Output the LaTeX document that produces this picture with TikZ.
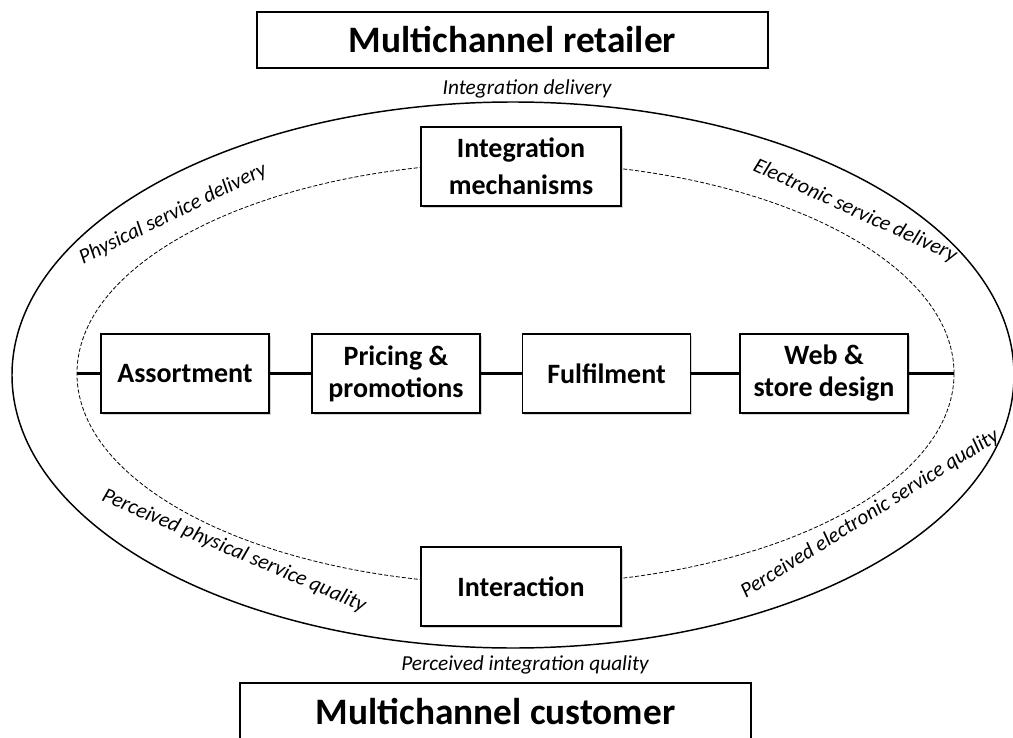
\documentclass[tikz,border=0pt]{standalone}
\usepackage{fontspec}
\setmainfont{Carlito}
\usetikzlibrary{shadows}

\tikzset{
  titlebox/.style={draw=black, line width=0.9pt, fill=white, inner sep=0pt,
    font=\fontsize{28}{34}\selectfont\bfseries},
  areabox/.style={draw=black, line width=0.8pt, fill=white, inner sep=0pt,
    align=center, minimum width=126pt, minimum height=59.25pt,
    font=\fontsize{21}{24}\selectfont\bfseries,
    drop shadow={shadow xshift=1.2pt, shadow yshift=-1.2pt, opacity=0.35}},
  flowlabel/.style={inner sep=0pt, font=\fontsize{16}{19}\selectfont\itshape},
  outerring/.style={draw=black, line width=1.1pt},
  innerring/.style={draw=black, line width=0.6pt, dash pattern=on 3pt off 1.5pt},
  chain/.style={draw=black, line width=2.2pt}
}

\begin{document}
\begin{tikzpicture}[x=0.75pt, y=-0.75pt]
  \useasboundingbox (0,0) rectangle (1013,738);

  % service rings
  \draw[outerring] (513,375) ellipse [x radius=375.75pt, y radius=204.75pt];
  \draw[innerring] (515.5,373.5) ellipse [x radius=328.9pt, y radius=158.25pt];

  % ends of the central chain on the inner ring
  \coordinate (chainL) at (77,373.5);
  \coordinate (chainR) at (954,373.5);

  % retailer and customer
  \node[titlebox, minimum width=383.25pt, minimum height=42pt] (retailer) at (512.5,40)
    {Multichannel retailer};
  \node[titlebox, minimum width=383.25pt, minimum height=42.75pt] (customer) at (495.5,711.5)
    {Multichannel customer};

  % retail mix areas
  \node[areabox] (assort) at (185,373.5) {Assortment};
  \node[areabox] (pricing) at (396,373.5) {Pricing \&\\promotions};
  \node[areabox] (fulfil) at (606.5,373.5) {Fulfilment};
  \node[areabox] (web) at (824,373.5) {Web \&\\store design};

  \draw[chain] (chainL) -- (assort) (assort) -- (pricing) (pricing) -- (fulfil)
    (fulfil) -- (web) (web) -- (chainR);

  \node[areabox, minimum width=150pt, font=\fontsize{21}{27.75}\selectfont\bfseries]
    (integ) at (521,166.5) {Integration\\mechanisms};
  \node[areabox, minimum width=150pt] (interact) at (521,586.5) {Interaction};

  % delivery and quality labels
  \node[flowlabel, anchor=base] (intdel) at (527,95) {Integration delivery};
  \node[flowlabel, anchor=base] (intqual) at (525,670) {Perceived integration quality};
  \node[flowlabel, rotate=26] (physdel) at (173,214) {Physical service delivery};
  \node[flowlabel, rotate=-24.5] (elecdel) at (855,211) {Electronic service delivery};
  \node[flowlabel, rotate=-23] (physqual) at (234,551) {Perceived physical service quality};
  \node[flowlabel, rotate=32] (elecqual) at (870,514) {Perceived electronic service quality};
\end{tikzpicture}
\end{document}
